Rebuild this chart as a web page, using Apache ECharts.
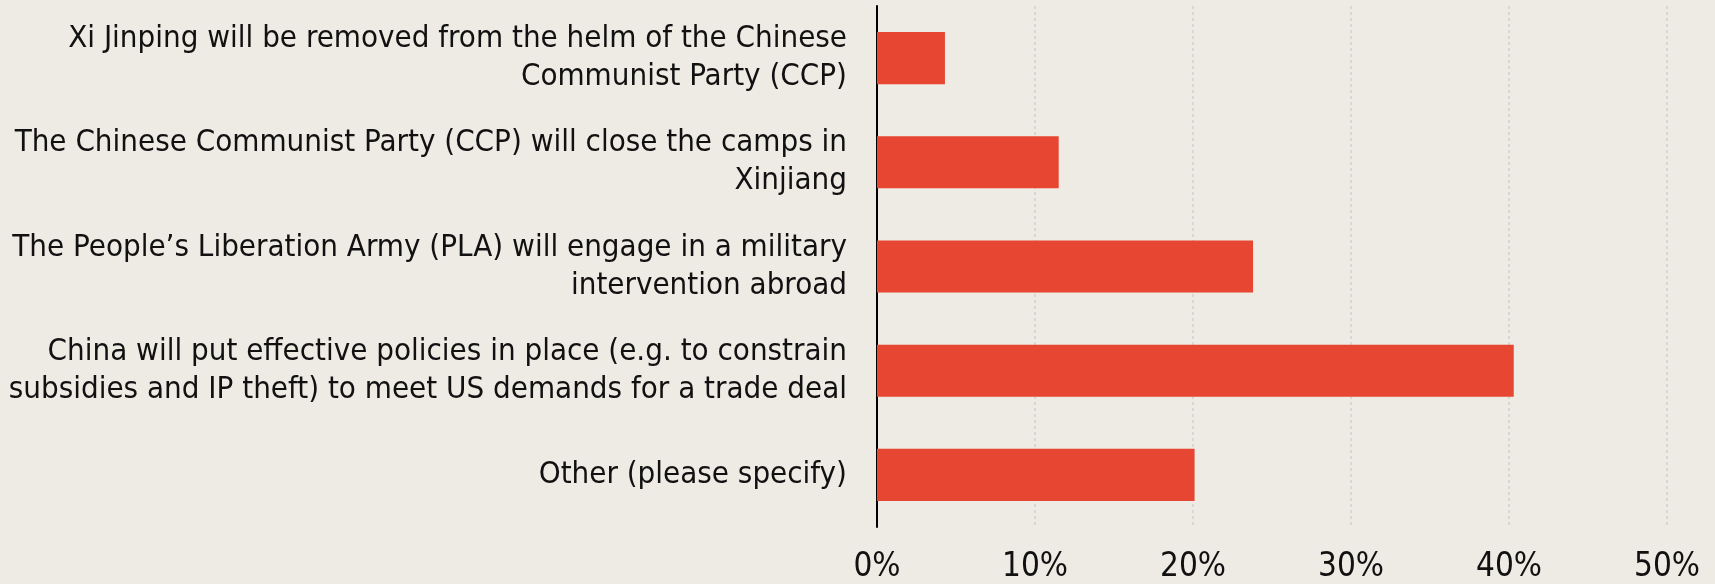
<!DOCTYPE html>
<html>
<head>
<meta charset="utf-8">
<script src="https://cdn.jsdelivr.net/npm/echarts@6/dist/echarts.min.js"></script>
<style>
  html, body { margin: 0; padding: 0; background: #eeeae4; }
  #chart { width: 1715px; height: 584px; }
</style>
</head>
<body>
<div id="chart"></div>
<script>
// survey answers, top to bottom
const categories = [
  'Xi Jinping will be removed from the helm of the Chinese\nCommunist Party (CCP)',
  'The Chinese Communist Party (CCP) will close the camps in\nXinjiang',
  'The People\u2019s Liberation Army (PLA) will engage in a military\nintervention abroad',
  'China will put effective policies in place (e.g. to constrain\nsubsidies and IP theft) to meet US demands for a trade deal',
  'Other (please specify)'
]
const shares = [4.3, 11.5, 23.8, 40.3, 20.1]
const tickMin = 0
const tickMax = 50
const tickStep = 10

const chart = echarts.init(document.getElementById('chart'))
const font = '"DejaVu Sans Condensed", "DejaVu Sans", sans-serif'

chart.setOption({
  backgroundColor: '#eeeae4',
  animation: false,
  grid: { left: 877, right: 48, top: 6, bottom: 56 },
  xAxis: {
    type: 'value',
    min: tickMin,
    max: tickMax,
    interval: tickStep,
    axisLine: { show: false },
    axisTick: { show: false },
    axisLabel: {
      formatter: '{value}%',
      color: '#111',
      fontFamily: font,
      fontSize: 33,
      margin: 24
    },
    splitLine: { lineStyle: { color: '#d4d1cc', type: [3, 3], width: 1.5 } }
  },
  yAxis: {
    type: 'category',
    inverse: true,
    data: categories,
    axisLine: { lineStyle: { color: '#000', width: 2 } },
    axisTick: { show: false },
    axisLabel: {
      color: '#111',
      fontFamily: font,
      fontSize: 31,
      lineHeight: 38,
      margin: 30,
      align: 'right'
    }
  },
  series: [{
    type: 'bar',
    data: shares,
    barCategoryGap: '50%',
    itemStyle: { color: '#e64632' }
  }]
})
</script>
</body>
</html>
